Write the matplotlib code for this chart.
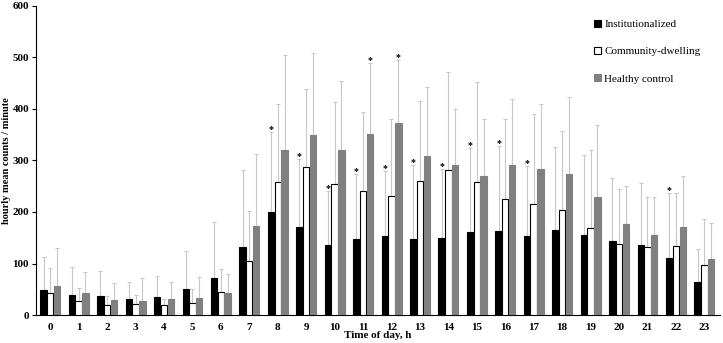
import numpy as np
import matplotlib
matplotlib.use("Agg")
import matplotlib.pyplot as plt

plt.rcParams['font.family'] = ['Liberation Serif', 'DejaVu Serif']

hours = list(range(24))
inst = [48, 38, 36, 32, 35, 51, 72, 132, 200, 170, 135, 148, 153, 147, 150, 162, 164, 154, 165, 155, 143, 135, 110, 64]
comm = [43, 27, 19, 21, 19, 24, 45, 104, 258, 288, 254, 240, 231, 261, 282, 259, 225, 216, 203, 168, 138, 133, 134, 98]
ctrl = [56, 42, 29, 27, 31, 33, 42, 172, 320, 350, 320, 351, 373, 309, 291, 269, 291, 283, 273, 229, 176, 155, 171, 109]
inst_top = [112, 93, 85, 65, 75, 124, 180, 281, 355, 303, 240, 274, 279, 292, 283, 324, 329, 290, 326, 310, 266, 257, 237, 128]
comm_top = [91, 53, 37, 38, 32, 50, 90, 201, 410, 439, 413, 395, 381, 415, 472, 452, 380, 391, 358, 321, 245, 229, 236, 187]
ctrl_top = [131, 83, 63, 71, 65, 74, 80, 312, 504, 509, 454, 489, 496, 443, 400, 380, 420, 410, 423, 369, 251, 229, 269, 178]
star_inst = [8, 9, 10, 11, 12, 13, 14, 15, 16, 17, 22]
star_ctrl = [11, 12]
labels = ["Institutionalized", "Community-dwelling", "Healthy control"]

fig = plt.figure(figsize=(7.23, 3.43), dpi=100)
ax = fig.add_axes([0.0498, 0.0816, 0.946, 0.901])

x = np.arange(len(hours))
w = 0.225
off = [-w - 0.01, 0, w + 0.015]
errc = '#c8c8c8'
series = [(inst, inst_top, 'black', 'black'), (comm, comm_top, 'white', 'black'), (ctrl, ctrl_top, '#808080', '#808080')]
handles = []
for (vals, tops, fc, ec), o, lab in zip(series, off, labels):
    v = np.array(vals, float)
    t = np.array(tops, float)
    h = ax.bar(x + o, v, width=w, color=fc, edgecolor=ec, linewidth=0.8, label=lab, zorder=3)
    handles.append(h)
    ax.errorbar(x + o, v, yerr=[np.zeros_like(v), t - v], fmt='none', ecolor=errc,
                elinewidth=0.8, capsize=1.5, capthick=0.8, zorder=2)

for i in star_inst:
    ax.text(x[i] + off[0], inst_top[i] - 4, '*', ha='center', va='bottom', fontsize=7, fontweight='bold')
for i in star_ctrl:
    ax.text(x[i] + off[2], ctrl_top[i] - 4, '*', ha='center', va='bottom', fontsize=7, fontweight='bold')

ax.set_xlim(-0.5, 23.55)
ax.set_ylim(0, 600)
ax.set_yticks(range(0, 601, 100))
ax.set_xticks(x)
ax.set_xticklabels([str(h) for h in hours])
for lbl in ax.get_xticklabels() + ax.get_yticklabels():
    lbl.set_fontweight('bold')
    lbl.set_fontsize(8)
ax.tick_params(axis='x', length=0, pad=6)
ax.tick_params(axis='y', length=3, direction='out', width=0.8, pad=2)
ax.spines['top'].set_visible(False)
ax.spines['right'].set_visible(False)
ax.spines['left'].set_linewidth(0.8)
ax.spines['bottom'].set_linewidth(0.8)
ax.set_ylabel('hourly mean counts / minute', fontsize=7.5, fontweight='bold', labelpad=1)
ax.set_xlabel('Time of day, h', fontsize=8, fontweight='bold', labelpad=-1)

leg = ax.legend(handles=handles, labels=labels, loc='upper left', bbox_to_anchor=(0.81, 0.97),
                frameon=False, fontsize=8, handlelength=0.6, handleheight=0.6,
                handletextpad=0.3, labelspacing=1.6, borderaxespad=0)

fig.savefig('out.png', dpi=100)
